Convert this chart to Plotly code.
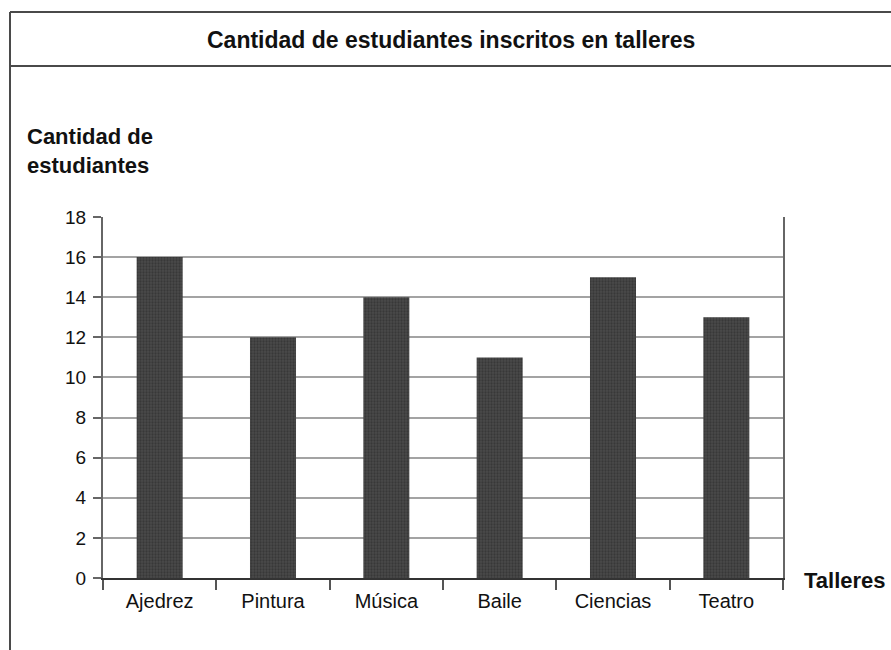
import plotly.graph_objects as go

# Workshop enrolment data
talleres = ["Ajedrez", "Pintura", "Música", "Baile", "Ciencias", "Teatro"]
estudiantes = [16, 12, 14, 11, 15, 13]
y_ticks = [0, 2, 4, 6, 8, 10, 12, 14, 16, 18]

W, H = 891, 650
# plot area in pixels
PL, PR, PT, PB = 103, 783, 217, 578


def px_x(x):
    return (x - PL) / (PR - PL)


def px_y(y):
    return (PB - y) / (PB - PT)


FONT = "Liberation Sans, Arial, sans-serif"

fig = go.Figure(
    go.Bar(
        x=talleres,
        y=estudiantes,
        marker=dict(
            color="#474747",
            line=dict(width=0),
            pattern=dict(shape=".", fgcolor="#262626", bgcolor="#4a4a4a", size=3, solidity=0.45),
        ),
        hoverinfo="x+y",
    )
)

fig.update_layout(
    width=W,
    height=H,
    margin=dict(l=PL, r=W - PR, t=PT, b=H - PB, pad=0),
    paper_bgcolor="white",
    plot_bgcolor="white",
    bargap=0.594,
    showlegend=False,
    font=dict(family=FONT, size=20, color="#111"),
)

fig.update_xaxes(
    type="category",
    tickson="boundaries",
    ticks="outside",
    ticklen=10,
    tickwidth=2,
    tickcolor="#555",
    showline=True,
    linecolor="#333",
    linewidth=2,
    showgrid=False,
    ticklabelstandoff=4,
    tickfont=dict(family=FONT, size=20, color="#111"),
)

fig.update_yaxes(
    range=[0, 18],
    tickvals=y_ticks,
    ticks="outside",
    ticklen=8,
    tickwidth=2,
    tickcolor="#666",
    showline=True,
    linecolor="#666",
    linewidth=2,
    mirror=True,
    showgrid=True,
    gridcolor="#a3a3a3",
    gridwidth=1.5,
    zeroline=False,
    ticklabelstandoff=3,
    tickfont=dict(family=FONT, size=19, color="#111"),
)

# outer frame with title bar
frame = dict(color="#4a4a4a", width=2)
fig.add_shape(type="line", xref="paper", yref="paper",
              x0=px_x(10), x1=px_x(W + 5), y0=px_y(12), y1=px_y(12), line=frame)
fig.add_shape(type="line", xref="paper", yref="paper",
              x0=px_x(10), x1=px_x(W + 5), y0=px_y(66), y1=px_y(66), line=frame)
fig.add_shape(type="line", xref="paper", yref="paper",
              x0=px_x(10), x1=px_x(10), y0=px_y(12), y1=px_y(H + 5), line=frame)

fig.add_annotation(
    text="<b>Cantidad de estudiantes inscritos en talleres</b>",
    xref="paper", yref="paper", x=px_x(451), y=px_y(40),
    xanchor="center", yanchor="middle", showarrow=False,
    font=dict(family=FONT, size=23, color="#111"),
)
fig.add_annotation(
    text="<b>Cantidad de<br>estudiantes</b>",
    xref="paper", yref="paper", x=px_x(25), y=px_y(151),
    xanchor="left", yanchor="middle", align="left", showarrow=False,
    font=dict(family=FONT, size=22, color="#111"),
)
fig.add_annotation(
    text="<b>Talleres</b>",
    xref="paper", yref="paper", x=px_x(802), y=px_y(580),
    xanchor="left", yanchor="middle", showarrow=False,
    font=dict(family=FONT, size=22, color="#111"),
)

fig.write_html("out.html")
